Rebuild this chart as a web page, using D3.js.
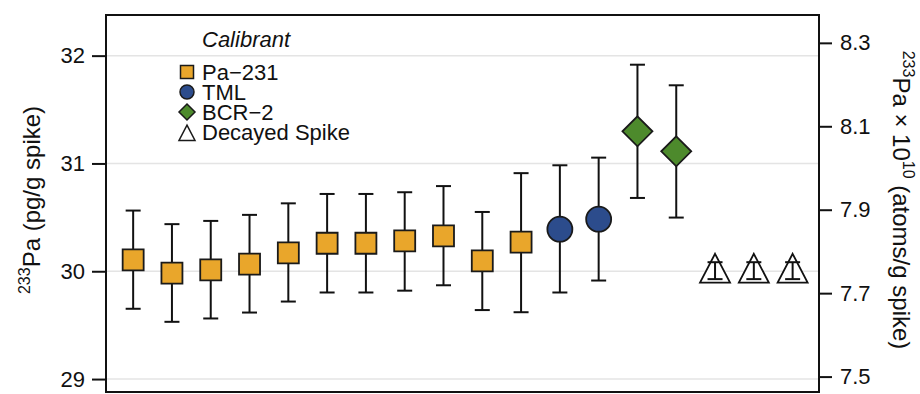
<!DOCTYPE html>
<html>
<head>
<meta charset="utf-8">
<script src="https://cdn.jsdelivr.net/npm/d3@7"></script>
<style>
  body { margin: 0; background: #fff; }
  svg text { font-family: "Liberation Sans", Arial, Helvetica, sans-serif; fill: #111; }
</style>
</head>
<body>
<svg id="chart" width="920" height="394"></svg>
<script>
// data
const calibrant = [
  "Pa-231", "Pa-231", "Pa-231", "Pa-231", "Pa-231", "Pa-231", "Pa-231", "Pa-231", "Pa-231", "Pa-231", "Pa-231",
  "TML", "TML", "BCR-2", "BCR-2", "Decayed Spike", "Decayed Spike", "Decayed Spike",
];
const values = [30.106, 29.982, 30.013, 30.066, 30.171, 30.26, 30.26, 30.282, 30.328, 30.096, 30.27,
  30.39, 30.483, 31.298, 31.113, 30.006, 30.006, 30.006];
const lower = [29.652, 29.531, 29.562, 29.617, 29.719, 29.803, 29.803, 29.82, 29.87, 29.64, 29.62,
  29.803, 29.914, 30.68, 30.498, 29.927, 29.927, 29.927];
const upper = [30.563, 30.437, 30.467, 30.523, 30.63, 30.717, 30.717, 30.733, 30.79, 30.55, 30.91,
  30.983, 31.054, 31.916, 31.725, 30.084, 30.084, 30.084];

const leftTicks = [29, 30, 31, 32];
const rightTicks = [7.5, 7.7, 7.9, 8.1, 8.3];
const legendNames = ["Pa-231", "TML", "BCR-2", "Decayed Spike"];
const legendLabels = ["Pa\u2212231", "TML", "BCR\u22122", "Decayed Spike"];

// pg -> atoms x 1e10 (233Pa)
const PG_TO_ATOMS = 6.02214e23 / 233.0402 * 1e-12 / 1e10;

const colors = { "Pa-231": "#e9a62b", "TML": "#2c4c8c", "BCR-2": "#4d8a2c", "Decayed Spike": "#ffffff" };

const svg = d3.select("#chart");
const margin = { left: 106, right: 101, top: 15, bottom: 2 };
const W = 920, H = 394;

const yDomain = [28.88, 32.377];
const x = d3.scaleLinear().domain([0.3, 18.68]).range([margin.left, W - margin.right]);
const y = d3.scaleLinear().domain(yDomain).range([H - margin.bottom, margin.top]);
const y2 = d3.scaleLinear().domain(yDomain.map((d) => d * PG_TO_ATOMS)).range([H - margin.bottom, margin.top]);

// grid
svg.append("g")
  .selectAll("line")
  .data(leftTicks)
  .join("line")
  .attr("x1", margin.left)
  .attr("x2", W - margin.right)
  .attr("y1", (d) => y(d))
  .attr("y2", (d) => y(d))
  .attr("stroke", "#e4e4e4")
  .attr("stroke-width", 1.5);

// axes
const styleAxis = (g) => {
  g.select(".domain").remove();
  g.selectAll(".tick line").attr("stroke", "#111").attr("stroke-width", 2);
  g.selectAll(".tick text").attr("font-size", 22).attr("fill", "#111");
};

svg.append("g")
  .attr("transform", `translate(${margin.left},0)`)
  .call(d3.axisLeft(y).tickValues(leftTicks).tickFormat(d3.format("d")).tickSize(14).tickPadding(7))
  .call(styleAxis);

svg.append("g")
  .attr("transform", `translate(${W - margin.right},0)`)
  .call(d3.axisRight(y2).tickValues(rightTicks).tickFormat(d3.format(".1f")).tickSize(13).tickPadding(8))
  .call(styleAxis);

// axis titles
const lt = svg.append("text")
  .attr("transform", "translate(40,200) rotate(-90)")
  .attr("text-anchor", "middle")
  .attr("font-size", 24);
lt.append("tspan").attr("font-size", 16).attr("dy", -10).text("233");
lt.append("tspan").attr("dy", 10).text("Pa (pg/g spike)");

const rt = svg.append("text")
  .attr("transform", "translate(893,200) rotate(90)")
  .attr("text-anchor", "middle")
  .attr("font-size", 24);
rt.append("tspan").attr("font-size", 16).attr("dy", -10).text("233");
rt.append("tspan").attr("dy", 10).text("Pa \u00d7 10");
rt.append("tspan").attr("font-size", 16).attr("dy", -10).text("10");
rt.append("tspan").attr("dy", 10).text(" (atoms/g spike)");

// marker shapes
function markerPath(kind, s) {
  // s = overall width of the marker
  const h = s / 2;
  if (kind === "Pa-231") return `M${-h},${-h}H${h}V${h}H${-h}Z`;
  if (kind === "TML") return d3.symbol(d3.symbolCircle, Math.PI * h * h)();
  if (kind === "BCR-2") return `M0,${-h}L${h},0L0,${h}L${-h},0Z`;
  // triangle, centre a bit below the middle
  return `M0,${-s * 0.56}L${h},${s * 0.4}L${-h},${s * 0.4}Z`;
}
const markerSize = { "Pa-231": 21, "TML": 25, "BCR-2": 30, "Decayed Spike": 30 };

const idx = d3.range(values.length);
const layer = svg.append("g");

// triangles go under their error bars
layer.selectAll("path.tri")
  .data(idx.filter((i) => calibrant[i] === "Decayed Spike"))
  .join("path")
  .attr("class", "tri")
  .attr("transform", (i) => `translate(${x(i + 1)},${y(values[i])})`)
  .attr("d", (i) => markerPath(calibrant[i], markerSize[calibrant[i]]))
  .attr("fill", "#fff")
  .attr("stroke", "#111")
  .attr("stroke-width", 1.8);

// error bars
const eb = layer.selectAll("g.eb").data(idx).join("g").attr("class", "eb")
  .attr("stroke", "#111").attr("stroke-width", 2);
eb.append("line")
  .attr("x1", (i) => x(i + 1)).attr("x2", (i) => x(i + 1))
  .attr("y1", (i) => y(lower[i])).attr("y2", (i) => y(upper[i]));
eb.append("line")
  .attr("x1", (i) => x(i + 1) - 7.5).attr("x2", (i) => x(i + 1) + 7.5)
  .attr("y1", (i) => y(lower[i])).attr("y2", (i) => y(lower[i]));
eb.append("line")
  .attr("x1", (i) => x(i + 1) - 7.5).attr("x2", (i) => x(i + 1) + 7.5)
  .attr("y1", (i) => y(upper[i])).attr("y2", (i) => y(upper[i]));

// filled markers on top
layer.selectAll("path.pt")
  .data(idx.filter((i) => calibrant[i] !== "Decayed Spike"))
  .join("path")
  .attr("class", "pt")
  .attr("transform", (i) => `translate(${x(i + 1)},${y(values[i])})`)
  .attr("d", (i) => markerPath(calibrant[i], markerSize[calibrant[i]]))
  .attr("fill", (i) => colors[calibrant[i]])
  .attr("stroke", "#1a1a1a")
  .attr("stroke-width", 1.8);

// frame
svg.append("rect")
  .attr("x", margin.left)
  .attr("y", margin.top)
  .attr("width", W - margin.left - margin.right)
  .attr("height", H - margin.top - margin.bottom)
  .attr("fill", "none")
  .attr("stroke", "#111")
  .attr("stroke-width", 2);

// legend
const legend = svg.append("g");
legend.append("text")
  .attr("x", 202).attr("y", 47)
  .attr("font-size", 22)
  .attr("font-style", "italic")
  .text("Calibrant");

const legendSize = { "Pa-231": 13, "TML": 14, "BCR-2": 16, "Decayed Spike": 16 };
const li = legend.selectAll("g.item").data(legendNames).join("g").attr("class", "item")
  .attr("transform", (d, i) => `translate(0,${80 + i * 20})`);
li.append("path")
  .attr("transform", (d) => `translate(187,${d === "Decayed Spike" ? -6 : -8})`)
  .attr("d", (d) => markerPath(d, legendSize[d]))
  .attr("fill", (d) => colors[d])
  .attr("stroke", "#1a1a1a")
  .attr("stroke-width", 1.5);
li.append("text")
  .attr("x", 202).attr("y", 0)
  .attr("font-size", 22)
  .text((d, i) => legendLabels[i]);
</script>
</body>
</html>
